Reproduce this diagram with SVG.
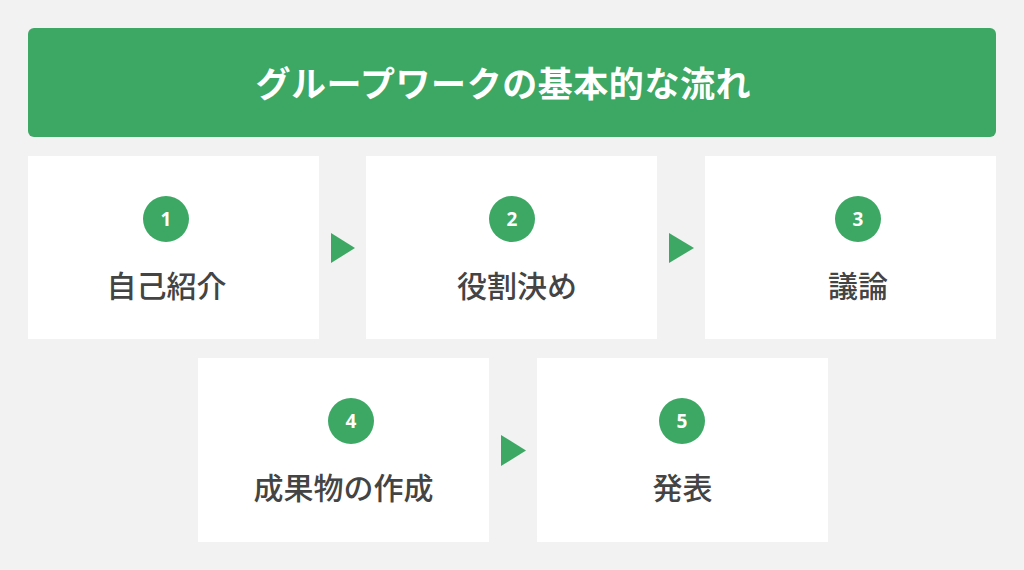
<svg xmlns="http://www.w3.org/2000/svg" width="1024" height="570" viewBox="0 0 1024 570">
<style>
.box{fill:#ffffff}
.num{fill:#3ca864}
.nt{font-family:"Noto Sans","Noto Sans CJK JP",sans-serif;font-weight:700;font-size:19px;fill:#ffffff;text-anchor:middle}
.lbl{font-family:"Noto Sans CJK JP",sans-serif;font-weight:500;font-size:30px;fill:#444444;text-anchor:middle}
.arr{fill:#3ca864}
</style>
<rect x="0" y="0" width="1024" height="570" fill="#f2f2f2"/>
<g id="title">
<rect x="28" y="28" width="968" height="109" rx="6" fill="#3ca864"/>
<text x="503" y="97" font-family="'Noto Sans CJK JP',sans-serif" font-weight="700" font-size="35" fill="#ffffff" text-anchor="middle" textLength="495" lengthAdjust="spacing">グループワークの基本的な流れ</text>
</g>
<g id="step1">
<rect class="box" x="28" y="156" width="291" height="183"/>
<circle class="num" cx="166" cy="219" r="23"/>
<text class="nt" x="166" y="226">1</text>
<text class="lbl" x="166.5" y="297">自己紹介</text>
</g>
<g id="step2">
<rect class="box" x="366" y="156" width="291" height="183"/>
<circle class="num" cx="512" cy="219" r="23"/>
<text class="nt" x="512" y="226">2</text>
<text class="lbl" x="517" y="297">役割決め</text>
</g>
<g id="step3">
<rect class="box" x="705" y="156" width="291" height="183"/>
<circle class="num" cx="858" cy="219" r="23"/>
<text class="nt" x="858" y="226">3</text>
<text class="lbl" x="858" y="297">議論</text>
</g>
<g id="step4">
<rect class="box" x="198" y="358" width="291" height="184"/>
<circle class="num" cx="351" cy="421" r="23"/>
<text class="nt" x="351" y="428">4</text>
<text class="lbl" x="343.5" y="499">成果物の作成</text>
</g>
<g id="step5">
<rect class="box" x="537" y="358" width="291" height="184"/>
<circle class="num" cx="682" cy="421" r="23"/>
<text class="nt" x="682" y="428">5</text>
<text class="lbl" x="682.5" y="499">発表</text>
</g>
<g id="connectors">
<polygon class="arr" points="331,233 355,248 331,263"/>
<polygon class="arr" points="669,233 694,248 669,263"/>
<polygon class="arr" points="501,435 526,450.5 501,466"/>
</g>
</svg>
